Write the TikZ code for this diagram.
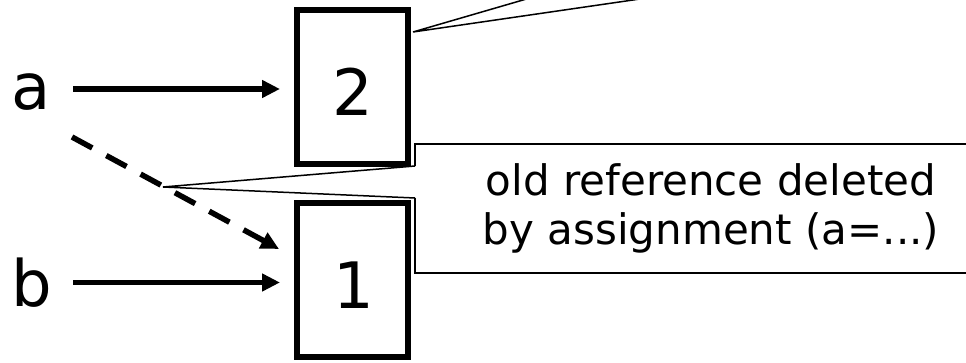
\documentclass[tikz,border=0pt]{standalone}
\usepackage{fontspec}
\setmainfont{DejaVu Sans}
\usetikzlibrary{arrows.meta}
\begin{document}
\begin{tikzpicture}[x=1pt,y=-1pt,
  refbox/.style={draw, line width=6pt, minimum width=111pt, minimum height=154pt, inner sep=0pt, outer sep=0pt},
  big/.style={font=\fontsize{64}{77}\selectfont, inner sep=0pt},
  arr/.style={line width=5.5pt, -{Triangle[length=18pt,width=17pt]}},
  dasharr/.style={arr, dash pattern=on 23pt off 16pt},
  thinline/.style={line width=1.5pt},
  callout/.style={thinline, draw, minimum width=592pt, minimum height=129pt, inner sep=0pt, outer sep=0pt, align=center, font=\fontsize{42}{49}\selectfont}]
\useasboundingbox (0,0) rectangle (966,363);
\clip (0,0) rectangle (966,363);
% reference boxes
\node[refbox] (box2) at (352.5,87) {};
\node[refbox] (box1) at (352.5,280) {};
\node[big] (n2) at (353,92) {2};
\node[big] (n1) at (354,285) {1};
% variable names
\node[big] (a) at (31,92) {a};
\node[big] (b) at (32,282.5) {b};
% arrows
\draw[arr, shorten <=22.5pt, shorten >=17pt] ([yshift=3pt]a.east) -- ([yshift=3pt]a.east -| box2.west);
\draw[arr, shorten <=20.7pt, shorten >=17pt] (b.east) -- (b.east -| box1.west);
\coordinate (d0) at (72,137);
\draw[dasharr] (d0) -- ([xshift=-18pt,yshift=-46pt]box1.north west);
% callout
\node[callout] (cb) at (711,208.5) {old reference deleted\\by assignment (a=...)};
\coordinate (t1) at (163,187);
\fill[white] ([xshift=1.5pt,yshift=-22pt]cb.north west) -- (t1) -- ([xshift=1.5pt,yshift=-54pt]cb.north west) -- cycle;
\draw[thinline, line join=miter] ([yshift=-22pt]cb.north west) -- (t1) -- ([yshift=-54pt]cb.north west);
% top callout pointer (box outside the picture)
\coordinate (t2) at (413,32);
\coordinate (u1) at (557.4,-10);
\coordinate (u2) at (701.75,-10);
\draw[thinline, line join=miter] (u1) -- (t2) -- (u2);
\end{tikzpicture}
\end{document}
